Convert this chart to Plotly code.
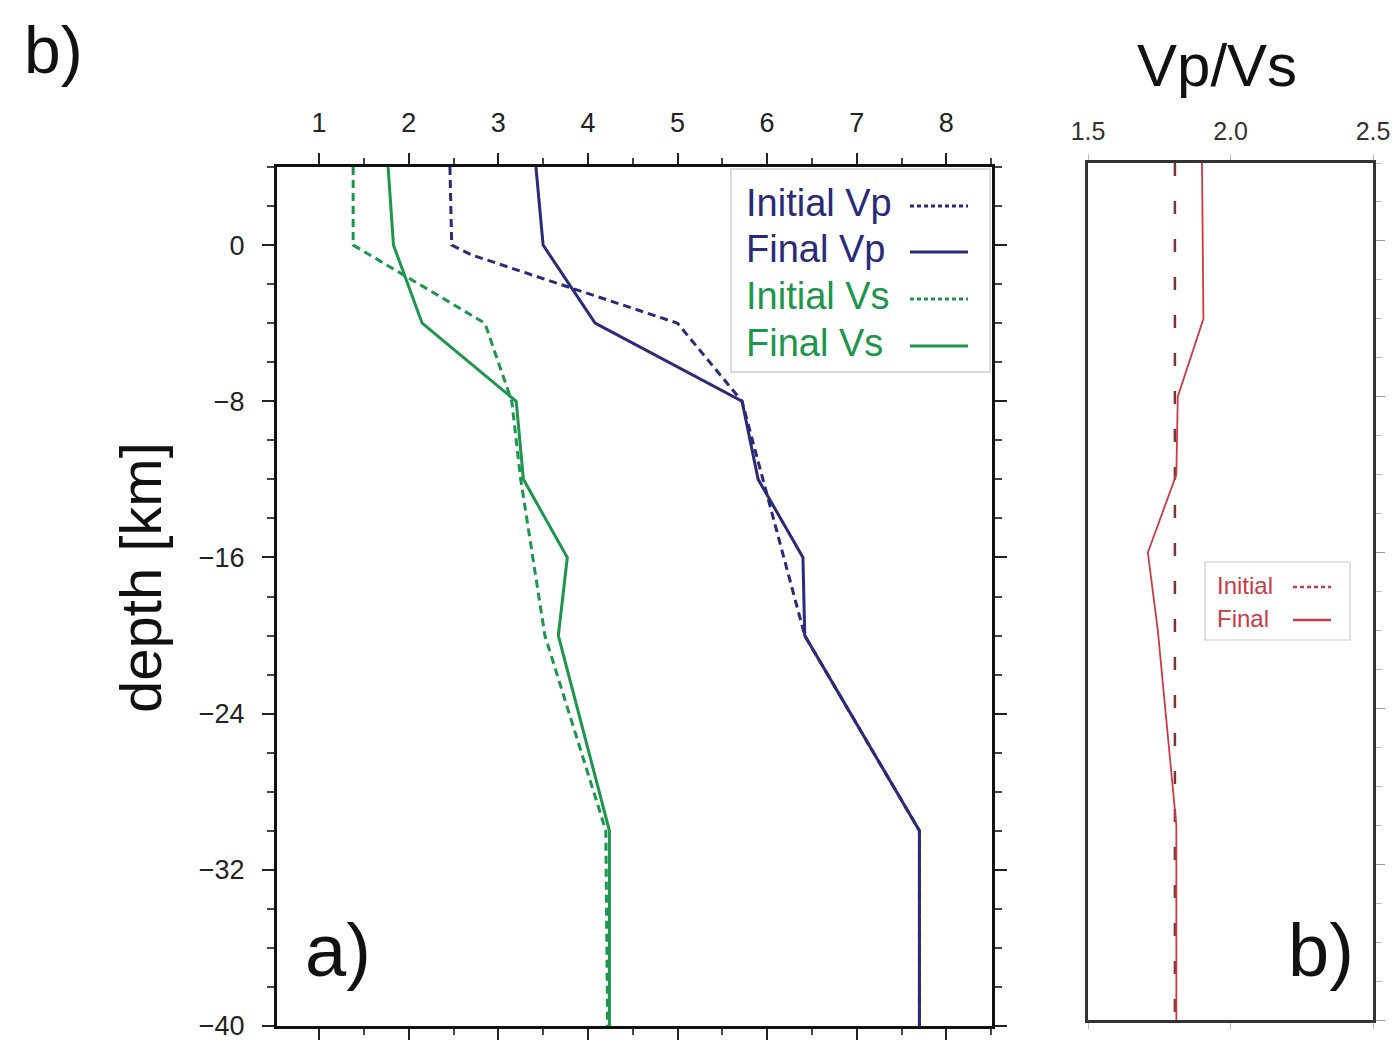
import plotly.graph_objects as go

# ---------------- data ----------------
depth_init_vp = [4, 0, -0.5, -4, -8, -20, -30, -40]
init_vp = [2.46, 2.48, 2.70, 5.00, 5.72, 6.42, 7.70, 7.70]

depth_final_vp = [4, 0, -4, -8, -12, -16, -20, -30, -40]
final_vp = [3.42, 3.50, 4.08, 5.72, 5.90, 6.40, 6.42, 7.70, 7.70]

depth_init_vs = [4, 0, -4, -8, -12, -20, -30, -40]
init_vs = [1.38, 1.38, 2.85, 3.15, 3.25, 3.52, 4.20, 4.22]

depth_final_vs = [4, 0, -4, -8, -12, -16, -20, -30, -40]
final_vs = [1.77, 1.83, 2.15, 3.20, 3.28, 3.77, 3.67, 4.24, 4.24]

depth_ratio = [4, -40]
init_ratio = [1.805, 1.805]
depth_final_ratio = [4, -4, -8, -12, -16, -20, -30, -40]
final_ratio = [1.90, 1.905, 1.815, 1.81, 1.71, 1.745, 1.81, 1.81]

legend_labels = ["Initial Vp", "Final Vp", "Initial Vs", "Final Vs"]
ratio_legend_labels = ["Initial", "Final"]

# ---------------- styling ----------------
W, H = 1400, 1042
NAVY = "#2a2a78"
GREEN = "#1c964c"
RED = "#cc3a44"
DARKRED = "#7e3434"
FONT = "Liberation Sans, Arial, sans-serif"


def px(x):
    return x / W


def py(y):
    return 1 - y / H


fig = go.Figure()

fig.add_trace(go.Scatter(x=init_vp, y=depth_init_vp, mode="lines",
                         line=dict(color=NAVY, width=3, dash="8px,5px"),
                         xaxis="x", yaxis="y", showlegend=False))
fig.add_trace(go.Scatter(x=final_vp, y=depth_final_vp, mode="lines",
                         line=dict(color=NAVY, width=3),
                         xaxis="x", yaxis="y", showlegend=False))
fig.add_trace(go.Scatter(x=init_vs, y=depth_init_vs, mode="lines",
                         line=dict(color=GREEN, width=3, dash="8px,5px"),
                         xaxis="x", yaxis="y", showlegend=False))
fig.add_trace(go.Scatter(x=final_vs, y=depth_final_vs, mode="lines",
                         line=dict(color=GREEN, width=3),
                         xaxis="x", yaxis="y", showlegend=False))

fig.add_trace(go.Scatter(x=init_ratio, y=depth_ratio, mode="lines",
                         line=dict(color=DARKRED, width=2.5, dash="13px,25px"),
                         xaxis="x2", yaxis="y2", showlegend=False))
fig.add_trace(go.Scatter(x=final_ratio, y=depth_final_ratio, mode="lines",
                         line=dict(color=RED, width=1.8),
                         xaxis="x2", yaxis="y2", showlegend=False))

left_dom_x = [px(277), px(992)]
left_dom_y = [py(1026), py(167)]
right_dom_x = [px(1088), px(1373)]
right_dom_y = [py(1020), py(163)]

tickfont = dict(family=FONT, size=27, color="#222")

fig.update_layout(
    width=W, height=H,
    margin=dict(l=0, r=0, t=0, b=0, autoexpand=False),
    paper_bgcolor="white", plot_bgcolor="white",
    xaxis=dict(domain=left_dom_x, range=[0.53, 8.51], side="top",
               anchor="y", dtick=1, tick0=0, ticks="outside", ticklen=11,
               tickwidth=2, tickcolor="#222", showline=True, linewidth=3,
               linecolor="#111", mirror="ticks", showgrid=False,
               zeroline=False, tickfont=tickfont, ticklabelstandoff=10,
               automargin=False,
               minor=dict(dtick=0.5, tick0=0, ticks="outside", ticklen=6,
                          tickwidth=1.5, tickcolor="#444", showgrid=False)),
    yaxis=dict(domain=left_dom_y, range=[-40, 4], anchor="x",
               dtick=8, tick0=0, ticks="outside", ticklen=12, tickwidth=2,
               tickcolor="#222", showline=True, linewidth=3, linecolor="#111",
               mirror="ticks", showgrid=False, zeroline=False,
               tickfont=tickfont, ticklabelstandoff=12, automargin=False,
               minor=dict(dtick=2, tick0=0, ticks="outside", ticklen=7,
                          tickwidth=1.5, tickcolor="#444", showgrid=False)),
    xaxis2=dict(domain=right_dom_x, range=[1.5, 2.5], side="top",
                anchor="y2", tickvals=[1.5, 2.0, 2.5],
                ticktext=["1.5", "2.0", "2.5"], ticks="outside", ticklen=6,
                tickwidth=1, tickcolor="#bbb", showline=True, linewidth=3,
                linecolor="#333", mirror="ticks", showgrid=False,
                zeroline=False, ticklabelstandoff=4, automargin=False,
                tickfont=dict(family=FONT, size=25, color="#333")),
    yaxis2=dict(domain=right_dom_y, range=[-40, 4], anchor="x2",
                side="right", dtick=8, tick0=0, ticks="outside", ticklen=9,
                tickwidth=1, tickcolor="#999", showline=True, linewidth=3,
                linecolor="#333", mirror=True, showgrid=False,
                zeroline=False, showticklabels=False, automargin=False,
                minor=dict(dtick=2, tick0=0, ticks="outside", ticklen=6,
                           tickwidth=1, tickcolor="#bbb", showgrid=False)),
)

P = dict(xref="paper", yref="paper", showarrow=False)

annotations = [
    dict(text="b)", x=px(22), y=py(50), xanchor="left", yanchor="middle",
         font=dict(family=FONT, size=66, color="#111"), **P),
    dict(text="Vp/Vs", x=px(1217), y=py(66), xanchor="center", yanchor="middle",
         font=dict(family=FONT, size=60, color="#111"), **P),
    dict(text="depth [km]", x=px(140), y=py(578), xanchor="center",
         yanchor="middle", textangle=-90,
         font=dict(family=FONT, size=58, color="#111"), **P),
    dict(text="a)", x=px(303), y=py(950), xanchor="left", yanchor="middle",
         font=dict(family=FONT, size=74, color="#111"), **P),
    dict(text="b)", x=px(1286), y=py(950), xanchor="left", yanchor="middle",
         font=dict(family=FONT, size=74, color="#111"), **P),
]

# custom legend for left panel (text first, line sample after)
leg_colors = [NAVY, NAVY, GREEN, GREEN]
leg_dash = ["4px,3px", "solid", "4px,3px", "solid"]
leg_y = [203, 249, 296, 343]
shapes = [dict(type="rect", xref="paper", yref="paper",
               x0=px(731), x1=px(990), y0=py(372), y1=py(169),
               line=dict(color="#cfcfcf", width=1.5), fillcolor="white",
               layer="below")]
for lab, c, d, yy in zip(legend_labels, leg_colors, leg_dash, leg_y):
    annotations.append(dict(text=lab, x=px(744), y=py(yy), xanchor="left",
                            yanchor="middle",
                            font=dict(family=FONT, size=38, color=c), **P))
    shapes.append(dict(type="line", xref="paper", yref="paper",
                       x0=px(910), x1=px(968), y0=py(yy + 3), y1=py(yy + 3),
                       line=dict(color=c, width=3, dash=d)))

# custom legend for right panel
shapes.append(dict(type="rect", xref="paper", yref="paper",
                   x0=px(1205), x1=px(1350), y0=py(640), y1=py(562),
                   line=dict(color="#cccccc", width=1.2), fillcolor="white"))
for lab, d, yy in zip(ratio_legend_labels, ["4px,3px", "solid"], [585, 618]):
    annotations.append(dict(text=lab, x=px(1215), y=py(yy), xanchor="left",
                            yanchor="middle",
                            font=dict(family=FONT, size=24, color=RED), **P))
    shapes.append(dict(type="line", xref="paper", yref="paper",
                       x0=px(1293), x1=px(1331), y0=py(yy + 2), y1=py(yy + 2),
                       line=dict(color=RED, width=2.5, dash=d)))

fig.update_layout(annotations=annotations, shapes=shapes)

fig.write_html("out.html",
               config={"displayModeBar": False},
               post_script="document.body.style.margin='0px';"
                           "document.body.style.overflow='hidden';")
